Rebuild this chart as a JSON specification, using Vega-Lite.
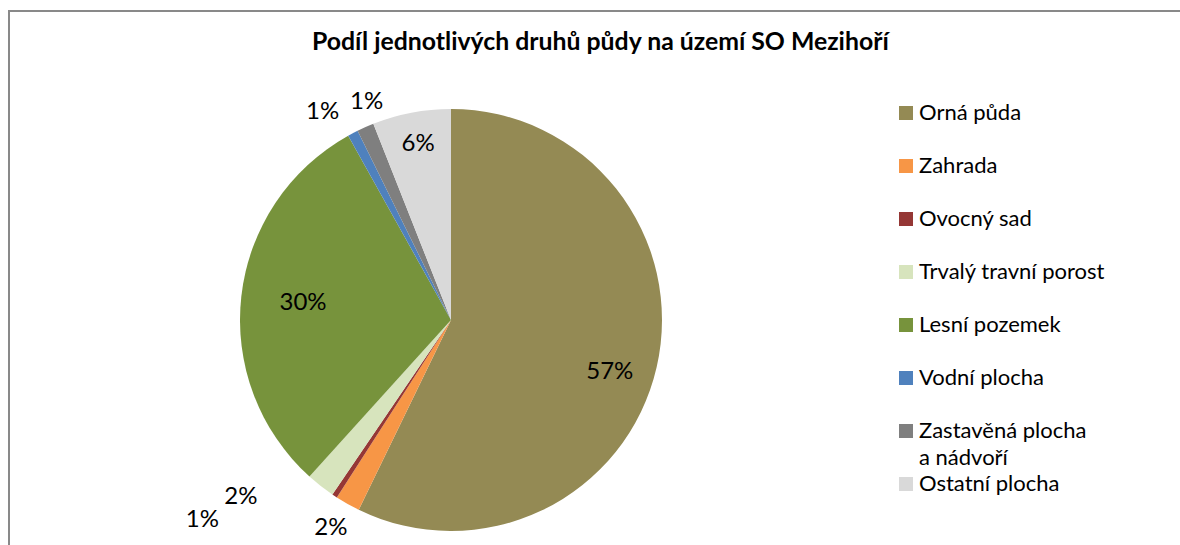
{
  "$schema": "https://vega.github.io/schema/vega-lite/v6.json",
  "width": 884,
  "height": 618,
  "autosize": {"type": "none"},
  "padding": {"left": 9, "top": 11, "right": 287, "bottom": -84},
  "view": {"stroke": "#898989", "strokeWidth": 2, "strokeDash": [884, 1502, 618, 3000]},
  "title": {
    "text": "Podíl jednotlivých druhů půdy na území SO Mezihoří",
    "font": "Lato",
    "fontSize": 24.8,
    "fontWeight": "bold",
    "color": "#000000",
    "anchor": "start",
    "frame": "group",
    "offset": -65,
    "baseline": "alphabetic",
    "dx": 303
  },
  "data": {
    "values": [
      {"i": 1, "cat": "Orná půda", "v": 57.2, "lab": "57%"},
      {"i": 2, "cat": "Zahrada", "v": 1.9, "lab": "2%"},
      {"i": 3, "cat": "Ovocný sad", "v": 0.4, "lab": "1%"},
      {"i": 4, "cat": "Trvalý travní porost", "v": 2.2, "lab": "2%"},
      {"i": 5, "cat": "Lesní pozemek", "v": 30.2, "lab": "30%"},
      {"i": 6, "cat": "Vodní plocha", "v": 0.8, "lab": "1%"},
      {"i": 7, "cat": "Zastavěná plocha a nádvoří", "v": 1.3, "lab": "1%"},
      {"i": 8, "cat": "Ostatní plocha", "v": 6.0, "lab": "6%"}
    ]
  },
  "config": {
    "font": "Lato",
    "style": {"guide-label": {"lineHeight": 27}},
    "legend": {"strokeColor": "#898989", "strokeWidth": 2, "strokeDash": [1200, 5000], "padding": 91},
    "text": {"font": "Lato", "fontSize": 24, "color": "#000000", "align": "center", "baseline": "middle"}
  },
  "encoding": {
    "theta": {"field": "v", "type": "quantitative", "stack": true},
    "order": {"field": "i", "type": "quantitative", "sort": "ascending"}
  },
  "layer": [
    {
      "mark": {"type": "arc", "outerRadius": 211},
      "encoding": {
        "color": {
          "field": "cat",
          "type": "nominal",
          "scale": {
            "domain": ["Orná půda", "Zahrada", "Ovocný sad", "Trvalý travní porost", "Lesní pozemek", "Vodní plocha", "Zastavěná plocha a nádvoří", "Ostatní plocha"],
            "range": ["#948A54", "#F79646", "#953735", "#D7E4BD", "#77933C", "#4F81BD", "#7F7F7F", "#D9D9D9"]
          },
          "legend": {
            "orient": "none",
            "legendX": 795,
            "legendY": 0,
            "padding": 91,
            "strokeColor": "#898989",
            "title": null,
            "symbolType": "square",
            "symbolSize": 196,
            "symbolStrokeWidth": 0,
            "symbolOpacity": 1,
            "labelFont": "Lato",
            "labelFontSize": 22,
            "labelColor": "#000000",
            "rowPadding": 4,
            "labelOffset": 2,
            "labelLimit": 300,
            "labelExpr": "datum.label == 'Zastavěná plocha a nádvoří' ? ['Zastavěná plocha', ' a nádvoří'] : [datum.label, ' ']"
          }
        }
      }
    },
    {
      "mark": {"type": "text", "radius": 165, "dx": -2, "dy": 15},
      "encoding": {"text": {"condition": {"test": "datum.cat == 'Orná půda'", "field": "lab"}, "value": ""}}
    },
    {
      "mark": {"type": "text", "radius": 165, "dx": 16, "dy": 2},
      "encoding": {"text": {"condition": {"test": "datum.cat == 'Lesní pozemek'", "field": "lab"}, "value": ""}}
    },
    {
      "mark": {"type": "text", "radius": 165, "dx": -2, "dy": -14},
      "encoding": {"text": {"condition": {"test": "datum.cat == 'Ostatní plocha'", "field": "lab"}, "value": ""}}
    },
    {
      "mark": {"type": "text", "radius": 235, "dx": -19, "dy": 0},
      "encoding": {"text": {"condition": {"test": "datum.cat == 'Vodní plocha'", "field": "lab"}, "value": ""}}
    },
    {
      "mark": {"type": "text", "radius": 235, "dx": 11, "dy": -3},
      "encoding": {"text": {"condition": {"test": "datum.cat == 'Zastavěná plocha a nádvoří'", "field": "lab"}, "value": ""}}
    },
    {
      "mark": {"type": "text", "radius": 235, "dx": -5, "dy": 3},
      "encoding": {"text": {"condition": {"test": "datum.cat == 'Zahrada'", "field": "lab"}, "value": ""}}
    },
    {
      "mark": {"type": "text", "radius": 235, "dx": -119, "dy": 4},
      "encoding": {"text": {"condition": {"test": "datum.cat == 'Ovocný sad'", "field": "lab"}, "value": ""}}
    },
    {
      "mark": {"type": "text", "radius": 235, "dx": -65, "dy": -8},
      "encoding": {"text": {"condition": {"test": "datum.cat == 'Trvalý travní porost'", "field": "lab"}, "value": ""}}
    }
  ]
}
